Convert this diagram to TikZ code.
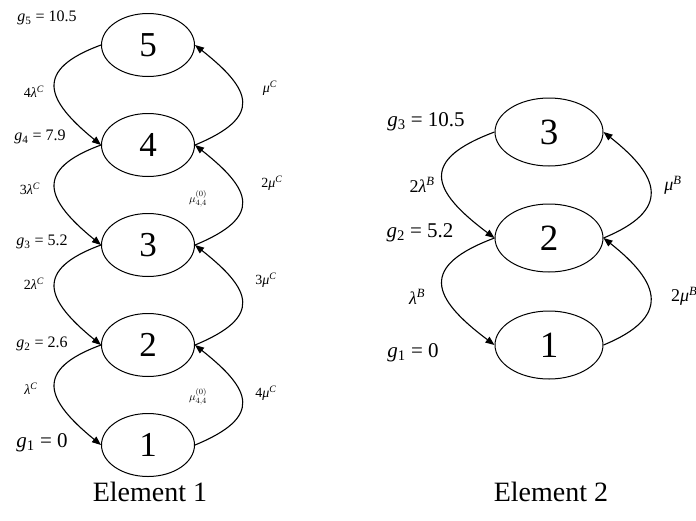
\documentclass[tikz,border=0pt]{standalone}
\usepackage{fontspec}
\setmainfont{Liberation Serif}
\usetikzlibrary{shapes.geometric,arrows.meta}
\tikzset{
  stateA/.style={ellipse,draw,line width=1pt,minimum width=93pt,minimum height=63pt,inner sep=0pt,font=\fontsize{35}{37}\selectfont},
  stateB/.style={ellipse,draw,line width=1pt,minimum width=108pt,minimum height=68pt,inner sep=0pt,font=\fontsize{37}{39}\selectfont},
  arr/.style={-{Triangle[length=9pt,width=7pt]},line width=1.1pt},
  glabA/.style={inner sep=0pt,font=\fontsize{16}{18}\selectfont},
  rlabA/.style={inner sep=0pt,font=\fontsize{14}{16}\selectfont},
  glabB/.style={inner sep=0pt,font=\fontsize{21}{23}\selectfont},
  rlabB/.style={inner sep=0pt,font=\fontsize{18}{20}\selectfont},
  tinylab/.style={inner sep=0pt,font=\fontsize{11}{12}\selectfont},
  title/.style={inner sep=0pt,font=\fontsize{28}{32}\selectfont}
}
\begin{document}
\begin{tikzpicture}[x=1pt,y=-1pt]
\useasboundingbox (0,0) rectangle (696,520);
% Element 1
\node[stateA] (n5) at (148,45) {5};
\node[stateA] (n4) at (148,145) {4};
\node[stateA] (n3) at (148,245) {3};
\node[stateA] (n2) at (148,345) {2};
\node[stateA] (n1) at (148,445) {1};
\foreach \u/\l in {n5/n4,n4/n3,n3/n2,n2/n1}{
  \draw[arr] (\u.west) .. controls +(-68,25) and +(-55,-45) .. (\l.west);
  \draw[arr] (\l.east) .. controls +(68,-28) and +(57,45) .. (\u.east);
}
\node[glabA] (g5) at (47,18) {\textit{g}\textsubscript{5} = 10.5};
\node[glabA] (g4) at (40,137) {\textit{g}\textsubscript{4} = 7.9};
\node[glabA] (g3) at (42,242) {\textit{g}\textsubscript{3} = 5.2};
\node[glabA] (g2) at (42,344) {\textit{g}\textsubscript{2} = 2.6};
\node[glabB] (g1) at (42,443) {\textit{g}\textsubscript{1} = 0};
\node[rlabA] (l4) at (34,92) {4\textit{λ}\textsuperscript{\textit{C}}};
\node[rlabA] (l3) at (30,189) {3\textit{λ}\textsuperscript{\textit{C}}};
\node[rlabA] (l2) at (34,284) {2\textit{λ}\textsuperscript{\textit{C}}};
\node[rlabA] (l1) at (31,389) {\textit{λ}\textsuperscript{\textit{C}}};
\node[rlabA] (m1) at (270,88) {\textit{μ}\textsuperscript{\textit{C}}};
\node[rlabA] (m2) at (272,183) {2\textit{μ}\textsuperscript{\textit{C}}};
\node[rlabA] (m3) at (266,280) {3\textit{μ}\textsuperscript{\textit{C}}};
\node[rlabA] (m4) at (266,393) {4\textit{μ}\textsuperscript{\textit{C}}};
\node[tinylab] (ma) at (198,199) {$\mu^{(0)}_{4,4}$};
\node[tinylab] (mb) at (198,397) {$\mu^{(0)}_{4,4}$};
\node[title] (t1) at (150,492) {Element 1};
% Element 2
\node[stateB] (k3) at (549,132) {3};
\node[stateB] (k2) at (549,238) {2};
\node[stateB] (k1) at (549,345) {1};
\foreach \u/\l in {k3/k2,k2/k1}{
  \draw[arr] (\u.west) .. controls +(-75,28) and +(-64,-48) .. (\l.west);
  \draw[arr] (\l.east) .. controls +(68,-28) and +(57,45) .. (\u.east);
}
\node[glabB] (h3) at (426,122) {\textit{g}\textsubscript{3} = 10.5};
\node[glabB] (h2) at (420,233) {\textit{g}\textsubscript{2} = 5.2};
\node[glabB] (h1) at (413,353) {\textit{g}\textsubscript{1} = 0};
\node[rlabB] (p2) at (422,185) {2\textit{λ}\textsuperscript{\textit{B}}};
\node[rlabB] (p1) at (417,297) {\textit{λ}\textsuperscript{\textit{B}}};
\node[rlabB] (q1) at (673,185) {\textit{μ}\textsuperscript{\textit{B}}};
\node[rlabB,anchor=west] (q2) at (671,296) {2\textit{μ}\textsuperscript{\textit{B}}};
\node[title] (t2) at (551,492) {Element 2};
\end{tikzpicture}
\end{document}
